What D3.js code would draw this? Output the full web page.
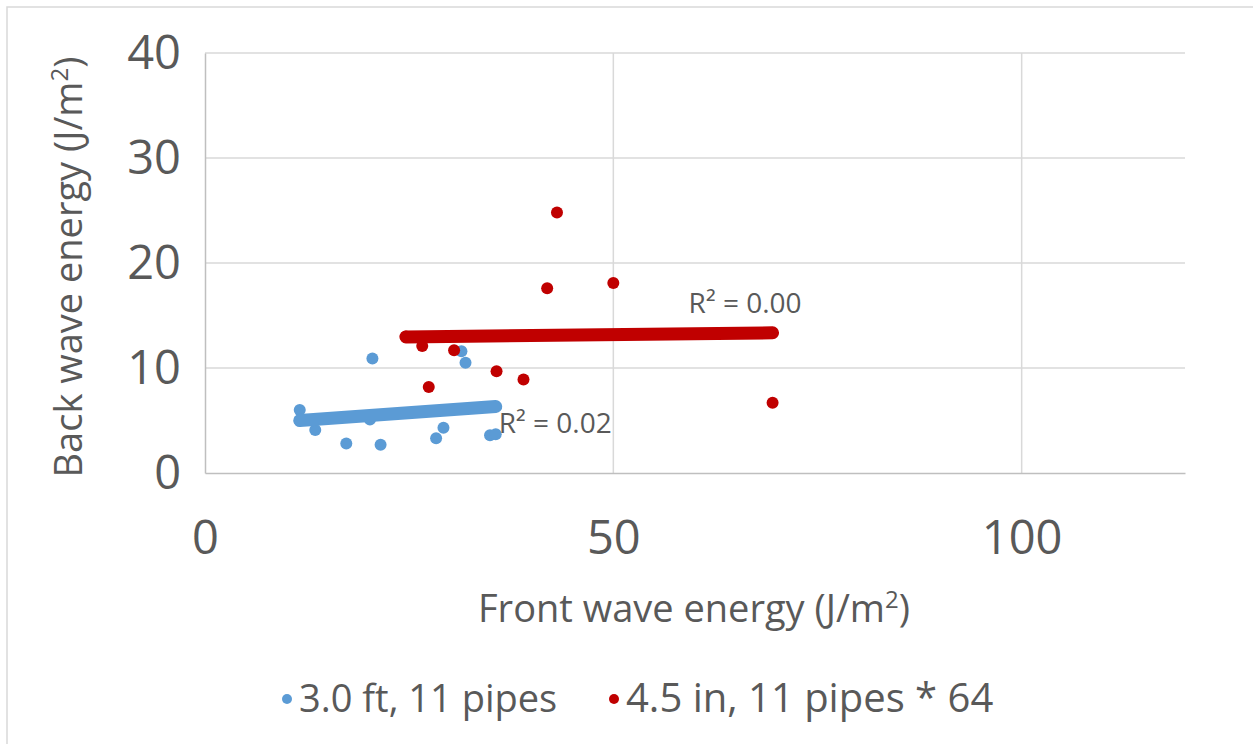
<!DOCTYPE html>
<html lang="en">
<head>
    <meta charset="UTF-8">
    <title>Back vs front wave energy</title>
    <script src="https://cdn.jsdelivr.net/npm/d3@7"></script>
    <style>
        body { margin: 0; background: #fff; }
        text { font-family: 'Open Sans', sans-serif; fill: #595959; }
    </style>
</head>
<body>
<script>
    const [width, height] = [1253, 744]
    const margin = {top: 53, right: 68, bottom: 271, left: 205}

    // data
    const seriesNames = ['3.0 ft, 11 pipes', '4.5 in, 11 pipes * 64']
    const seriesColors = ['#5b9bd5', '#c00000']
    const blueX = [11.6, 11.6, 13.5, 17.3, 21.5, 20.5, 20.2, 28.3, 29.2, 31.4, 31.9, 34.9, 35.6]
    const blueY = [6.0, 5.0, 4.1, 2.8, 2.7, 10.9, 5.1, 3.3, 4.3, 11.6, 10.5, 3.6, 3.7]
    const redX = [24.6, 26.6, 30.5, 27.4, 35.7, 39.0, 43.1, 41.9, 50.0, 69.5]
    const redY = [13.0, 12.1, 11.7, 8.2, 9.7, 8.9, 24.8, 17.6, 18.1, 6.7]
    const xTicks = [0, 50, 100]
    const yTicks = [0, 10, 20, 30, 40]

    const series = [
        {name: seriesNames[0], color: seriesColors[0], pts: blueX.map((x, i) => [x, blueY[i]])},
        {name: seriesNames[1], color: seriesColors[1], pts: redX.map((x, i) => [x, redY[i]])}
    ]

    const svg = d3.select('body').append('svg').attr('width', width).attr('height', height)

    // chart border
    svg.append('rect').attr('x', 7).attr('y', 7).attr('width', width + 10).attr('height', height + 10)
        .attr('fill', 'none').attr('stroke', '#d9d9d9').attr('stroke-width', 1.5)

    const x = d3.scaleLinear().domain([0, 120]).range([margin.left, width - margin.right])
    const y = d3.scaleLinear().domain([0, 40]).range([height - margin.bottom, margin.top])

    // grid lines
    svg.append('g').selectAll('line.h').data(yTicks.filter(d => d > 0)).join('line')
        .attr('x1', x(0)).attr('x2', x(120)).attr('y1', d => y(d)).attr('y2', d => y(d))
        .attr('stroke', '#d9d9d9').attr('stroke-width', 1.5)
    svg.append('g').selectAll('line.v').data(xTicks.filter(d => d > 0)).join('line')
        .attr('x1', d => x(d)).attr('x2', d => x(d)).attr('y1', y(0)).attr('y2', y(40))
        .attr('stroke', '#d9d9d9').attr('stroke-width', 1.5)

    // axes
    const xAxis = d3.axisBottom(x).tickValues(xTicks).tickSize(0).tickPadding(48)
    const yAxis = d3.axisLeft(y).tickValues(yTicks).tickSize(0).tickPadding(24)
    const gx = svg.append('g').attr('transform', `translate(0, ${y(0)})`).call(xAxis)
    const gy = svg.append('g').attr('transform', `translate(${x(0)}, 0)`).call(yAxis)
    gx.select('.domain').attr('stroke', '#bfbfbf').attr('stroke-width', 1.5)
    gy.select('.domain').attr('stroke', '#bfbfbf').attr('stroke-width', 1.5)
    svg.selectAll('.tick text').attr('font-family', "'Open Sans', sans-serif")
        .attr('font-size', 47).attr('fill', '#595959')

    // axis titles
    const xt = svg.append('text').attr('x', 694).attr('y', 622).attr('text-anchor', 'middle')
        .attr('font-size', 38)
    xt.append('tspan').text('Front wave energy (J/m')
    xt.append('tspan').text('2').attr('font-size', 24).attr('dy', -14)
    xt.append('tspan').text(')').attr('dy', 14)

    const yt = svg.append('text').attr('transform', 'translate(82, 267) rotate(-90)')
        .attr('text-anchor', 'middle').attr('font-size', 38)
    yt.append('tspan').text('Back wave energy (J/m')
    yt.append('tspan').text('2').attr('font-size', 24).attr('dy', -14)
    yt.append('tspan').text(')').attr('dy', 14)

    // points
    series.forEach(s => {
        svg.append('g').selectAll('circle').data(s.pts).join('circle')
            .attr('cx', d => x(d[0])).attr('cy', d => y(d[1])).attr('r', 6)
            .attr('fill', s.color)
    })

    // linear trend lines with R²
    const fit = pts => {
        const mx = d3.mean(pts, d => d[0]), my = d3.mean(pts, d => d[1])
        const sxy = d3.sum(pts, d => (d[0] - mx) * (d[1] - my))
        const sxx = d3.sum(pts, d => (d[0] - mx) ** 2)
        const syy = d3.sum(pts, d => (d[1] - my) ** 2)
        const b = sxy / sxx
        return {a: my - b * mx, b: b, r2: sxy * sxy / (sxx * syy)}
    }
    const labelOffset = [[3, 26, 'start'], [29, -20, 'end']]
    series.forEach((s, i) => {
        const f = fit(s.pts)
        const [x0, x1] = d3.extent(s.pts, d => d[0])
        svg.append('line')
            .attr('x1', x(x0)).attr('y1', y(f.a + f.b * x0))
            .attr('x2', x(x1)).attr('y2', y(f.a + f.b * x1))
            .attr('stroke', s.color).attr('stroke-width', 13).attr('stroke-linecap', 'round')
        const [dx, dy, anchor] = labelOffset[i]
        svg.append('text').attr('x', x(x1) + dx).attr('y', y(f.a + f.b * x1) + dy)
            .attr('text-anchor', anchor).attr('font-size', 28)
            .text(`R² = ${f.r2.toFixed(2)}`)
    })

    // legend
    const legendX = [287, 614]
    const legendSize = [38, 40]
    series.forEach((s, i) => {
        svg.append('circle').attr('cx', legendX[i]).attr('cy', 699).attr('r', 5).attr('fill', s.color)
        svg.append('text').attr('x', legendX[i] + 12).attr('y', 712)
            .attr('font-size', legendSize[i]).text(s.name)
    })
</script>
</body>
</html>
